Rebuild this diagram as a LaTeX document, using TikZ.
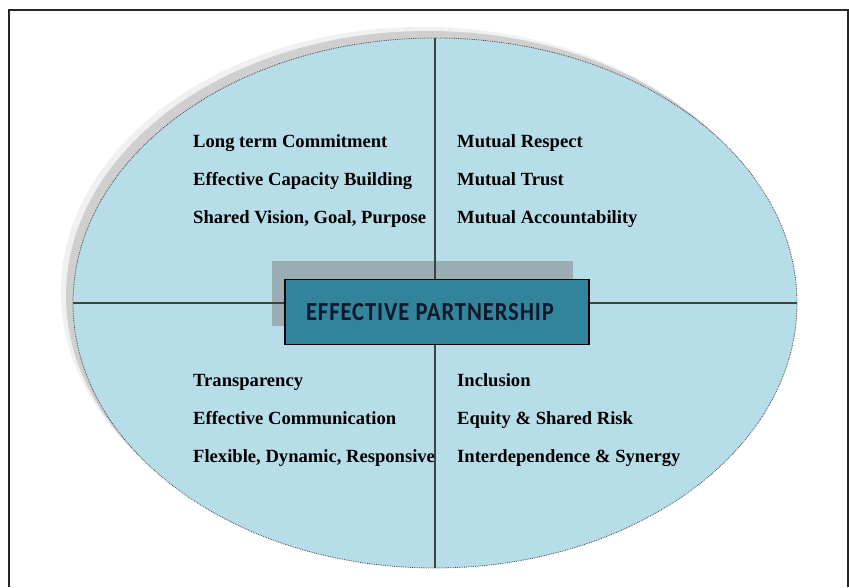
\documentclass[tikz,border=0pt]{standalone}
\usepackage{fontspec}
\setmainfont{Liberation Serif}
\newfontfamily\capsfont[LetterSpace=4]{Carlito}
\usetikzlibrary{shapes.geometric}

\definecolor{paleaqua}{HTML}{B7DDE8}
\definecolor{deepaqua}{HTML}{31849B}
\definecolor{boxshade}{HTML}{9AAEB4}
\definecolor{inkblue}{HTML}{10182B}

\begin{document}
\begin{tikzpicture}[x=1pt, y=-1pt,
        wheel/.style={ellipse, inner sep=0pt, outer sep=0pt, minimum width=724, minimum height=530},
        quality/.style={anchor=base west, inner sep=0pt, font=\bfseries\fontsize{18.6}{19}\selectfont},
        axis/.style={draw=gray!50!black, line width=1.1pt}]
        \useasboundingbox (0,0) rectangle (849,587);

        % frame, open at the bottom
        \draw[line width=2pt, black!85] (9,587) -- (9,10) -- (848,10) -- (848,587);

        % wheel with its shadow
        \node[wheel, fill=gray!12] (halo) at (423,292) {};
        \node[wheel, fill=gray!38] (shade) at (428,296) {};
        \node[wheel, fill=paleaqua, draw=gray!55!black, densely dotted, line width=0.8pt] (w) at (435,303) {};

        \node[rectangle, fill=boxshade, minimum width=301, minimum height=65, inner sep=0pt] (coreshade) at (422.5,293.5) {};

        \draw[axis] (w.north) -- (w.south);
        \draw[axis] (w.west) -- (w.east);

        \node[rectangle, draw=black, line width=1.5pt, fill=deepaqua, minimum width=304, minimum height=65, inner sep=0pt] (core) at (437,312)
            {\hspace*{-14pt}\scalebox{0.87}[1]{\capsfont\bfseries\fontsize{26}{26}\selectfont\color{inkblue}EFFECTIVE PARTNERSHIP}};

        % the four quarters
        \foreach \txt [count=\i] in {Long term Commitment, Effective Capacity Building, {Shared Vision, Goal, Purpose}}
            \node[quality] (nw\i) at (193,109+38*\i) {\txt};
        \foreach \txt [count=\i] in {Mutual Respect, Mutual Trust, Mutual Accountability}
            \node[quality] (ne\i) at (457,109+38*\i) {\txt};
        \foreach \txt [count=\i] in {Transparency, Effective Communication, {Flexible, Dynamic, Responsive}}
            \node[quality] (sw\i) at (193,348+38*\i) {\txt};
        \foreach \txt [count=\i] in {Inclusion, Equity \& Shared Risk, Interdependence \& Synergy}
            \node[quality] (se\i) at (457,348+38*\i) {\txt};
\end{tikzpicture}
\end{document}
